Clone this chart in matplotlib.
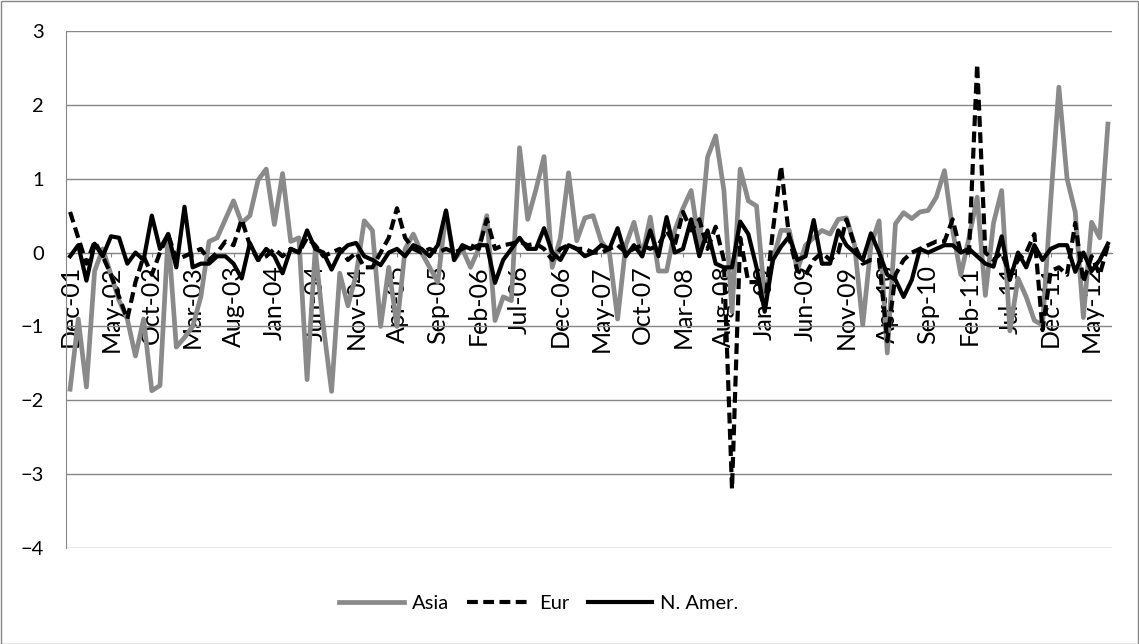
import matplotlib
matplotlib.use("Agg")
import matplotlib.pyplot as plt
from matplotlib.patches import Rectangle
import numpy as np

plt.rcParams['font.family'] = ['Lato', 'DejaVu Sans']

# Monthly categories Dec-01 .. Jul-12 (128 months)
months = ['Jan', 'Feb', 'Mar', 'Apr', 'May', 'Jun', 'Jul', 'Aug', 'Sep', 'Oct', 'Nov', 'Dec']
categories = ['Dec-01'] + [f"{m}-{y:02d}" for y in range(2, 13) for m in months][:127]

tick_labels = ['Dec-01', 'May-02', 'Oct-02', 'Mar-03', 'Aug-03', 'Jan-04', 'Jun-04', 'Nov-04',
               'Apr-05', 'Sep-05', 'Feb-06', 'Jul-06', 'Dec-06', 'May-07', 'Oct-07', 'Mar-08',
               'Aug-08', 'Jan-09', 'Jun-09', 'Nov-09', 'Apr-10', 'Sep-10', 'Feb-11', 'Jul-11',
               'Dec-11', 'May-12']

asia = [-1.85, -0.9, -1.82, -0.25, 0.05, -0.3, -0.65, -0.9, -1.4, -0.9,
        -1.87, -1.8, 0.25, -1.28, -1.15, -1.0, -0.6, 0.15, 0.2, 0.45,
        0.7, 0.4, 0.5, 0.98, 1.13, 0.38, 1.07, 0.15, 0.2, -1.72,
        0.05, -1.0, -1.88, -0.28, -0.72, -0.3, 0.43, 0.3, -1.0, -0.2,
        -1.0, 0.05, 0.25, 0.0, -0.2, -0.4, 0.55, -0.1, 0.05, -0.2,
        0.05, 0.5, -0.92, -0.6, -0.65, 1.42, 0.45, 0.85, 1.3, -0.2,
        0.2, 1.08, 0.16, 0.47, 0.5, 0.15, 0.0, -0.9, 0.1, 0.41,
        -0.05, 0.48, -0.25, -0.25, 0.3, 0.6, 0.84, 0.1, 1.29, 1.58,
        0.85, -0.8, 1.13, 0.7, 0.63, -0.6, -0.1, 0.3, 0.3, -0.24,
        0.1, 0.2, 0.3, 0.25, 0.45, 0.47, 0.1, -0.98, 0.1, 0.43,
        -1.36, 0.39, 0.54, 0.46, 0.55, 0.57, 0.75, 1.11, 0.3, -0.3,
        0.2, 0.75, -0.58, 0.4, 0.84, -1.06, -0.35, -0.6, -0.92, -0.98,
        0.7, 2.24, 1.0, 0.55, -0.88, 0.41, 0.2, 1.74]

eur = [0.55, 0.2, -0.15, 0.15, -0.05, -0.3, -0.6, -0.9, -0.4, -0.05,
       -0.3, 0.0, 0.25, -0.1, -0.05, 0.0, 0.05, -0.1, 0.0, 0.15,
       0.1, 0.45, 0.1, -0.1, -0.05, 0.05, -0.05, 0.05, 0.0, 0.2,
       0.1, -0.05, 0.0, 0.05, -0.1, 0.0, -0.2, -0.2, 0.0, 0.2,
       0.6, 0.2, 0.05, 0.0, 0.05, 0.0, 0.05, 0.0, 0.05, 0.1,
       0.05, 0.45, 0.05, 0.1, 0.12, 0.15, 0.1, 0.12, 0.05, -0.1,
       0.05, 0.1, 0.05, 0.05, 0.0, 0.0, 0.05, 0.1, 0.0, 0.05,
       0.1, 0.05, 0.1, 0.3, 0.1, 0.55, 0.3, 0.45, 0.05, 0.35,
       -0.1, -3.2, 0.2, -0.4, -0.4, -0.75, 0.3, 1.17, 0.2, -0.25,
       -0.3, -0.1, 0.0, -0.1, 0.0, 0.45, 0.1, -0.15, -0.1, -0.1,
       -1.2, -0.3, -0.1, 0.0, 0.05, 0.1, 0.15, 0.15, 0.45, 0.0,
       0.0, 2.55, 0.0, -0.1, 0.0, -0.3, -0.1, 0.0, 0.25, -1.05,
       -0.25, -0.2, -0.3, 0.4, -0.4, -0.05, -0.3, 0.1]

n_amer = [-0.05, 0.1, -0.38, 0.12, -0.05, 0.22, 0.2, -0.15, 0.0, -0.1,
          0.5, 0.05, 0.25, -0.2, 0.62, -0.2, -0.15, -0.15, -0.05, -0.05,
          -0.15, -0.35, 0.13, -0.1, 0.05, -0.05, -0.28, 0.05, 0.0, 0.3,
          0.05, 0.0, -0.23, 0.0, 0.1, 0.13, -0.05, -0.1, -0.17, 0.0,
          0.05, -0.05, 0.1, 0.05, -0.05, 0.1, 0.57, -0.1, 0.1, 0.05,
          0.1, 0.1, -0.41, -0.1, 0.05, 0.2, 0.05, 0.05, 0.33, 0.0,
          -0.1, 0.1, 0.05, -0.05, 0.0, 0.1, 0.05, 0.33, -0.05, 0.1,
          -0.05, 0.3, -0.05, 0.48, 0.0, 0.05, 0.45, -0.05, 0.3, -0.15,
          -0.2, -0.2, 0.42, 0.25, -0.2, -0.8, -0.1, 0.08, 0.22, -0.1,
          -0.05, 0.44, -0.15, -0.15, 0.3, 0.1, 0.0, -0.1, 0.26, 0.0,
          -0.3, -0.37, -0.6, -0.37, 0.05, 0.0, 0.05, 0.1, 0.1, 0.0,
          0.05, -0.05, -0.15, -0.19, 0.22, -0.37, 0.0, -0.2, 0.1, -0.1,
          0.05, 0.1, 0.1, -0.26, 0.0, -0.25, -0.1, 0.12]

W, H = 1139, 644
fig = plt.figure(figsize=(W / 100, H / 100), dpi=100)
ax = fig.add_axes([66 / W, 1 - 548 / H, (1112 - 66) / W, (548 - 31) / H])

grid_c = '#868686'
# spine position first (it resets tick settings)
ax.spines['bottom'].set_position(('data', 0))
ax.spines['bottom'].set_color(grid_c)
ax.spines['left'].set_color(grid_c)
ax.spines['top'].set_visible(False)
ax.spines['right'].set_visible(False)

x = np.arange(len(categories))
ax.plot(x, asia, color='#8a8a8a', lw=3.4, label='Asia', solid_joinstyle='round', zorder=3)
ax.plot(x, eur, color='black', lw=3.0, dashes=(2.6, 1.3), label='Eur', zorder=4)
ax.plot(x, n_amer, color='black', lw=3.0, label='N. Amer.', solid_joinstyle='round', zorder=5)

ax.set_xlim(-0.5, len(categories) - 0.5)
ax.set_ylim(-4, 3)
ax.set_yticks(range(-4, 4))
ax.yaxis.grid(True, color=grid_c, lw=1.0)
ax.set_axisbelow(True)

tick_pos = [categories.index(t) for t in tick_labels]
ax.set_xticks(tick_pos)
ax.set_xticklabels(tick_labels, rotation=90, fontsize=18, va='top', ha='center')
ax.tick_params(axis='x', length=3, color=grid_c, pad=6)
ax.tick_params(axis='y', length=0, pad=16, labelsize=14.5)

fig.legend(loc='center', bbox_to_anchor=(539 / W, 1 - 603 / H), ncol=3, frameon=False,
           fontsize=14.5, handlelength=3.2, columnspacing=0.9, handletextpad=0.4)

fig.patches.append(Rectangle((0.5 / W, 0.5 / H), 1 - 1.5 / W, 1 - 1.5 / H,
                             transform=fig.transFigure, fill=False, edgecolor=grid_c, lw=1.0))

fig.savefig('out.png', dpi=100)
